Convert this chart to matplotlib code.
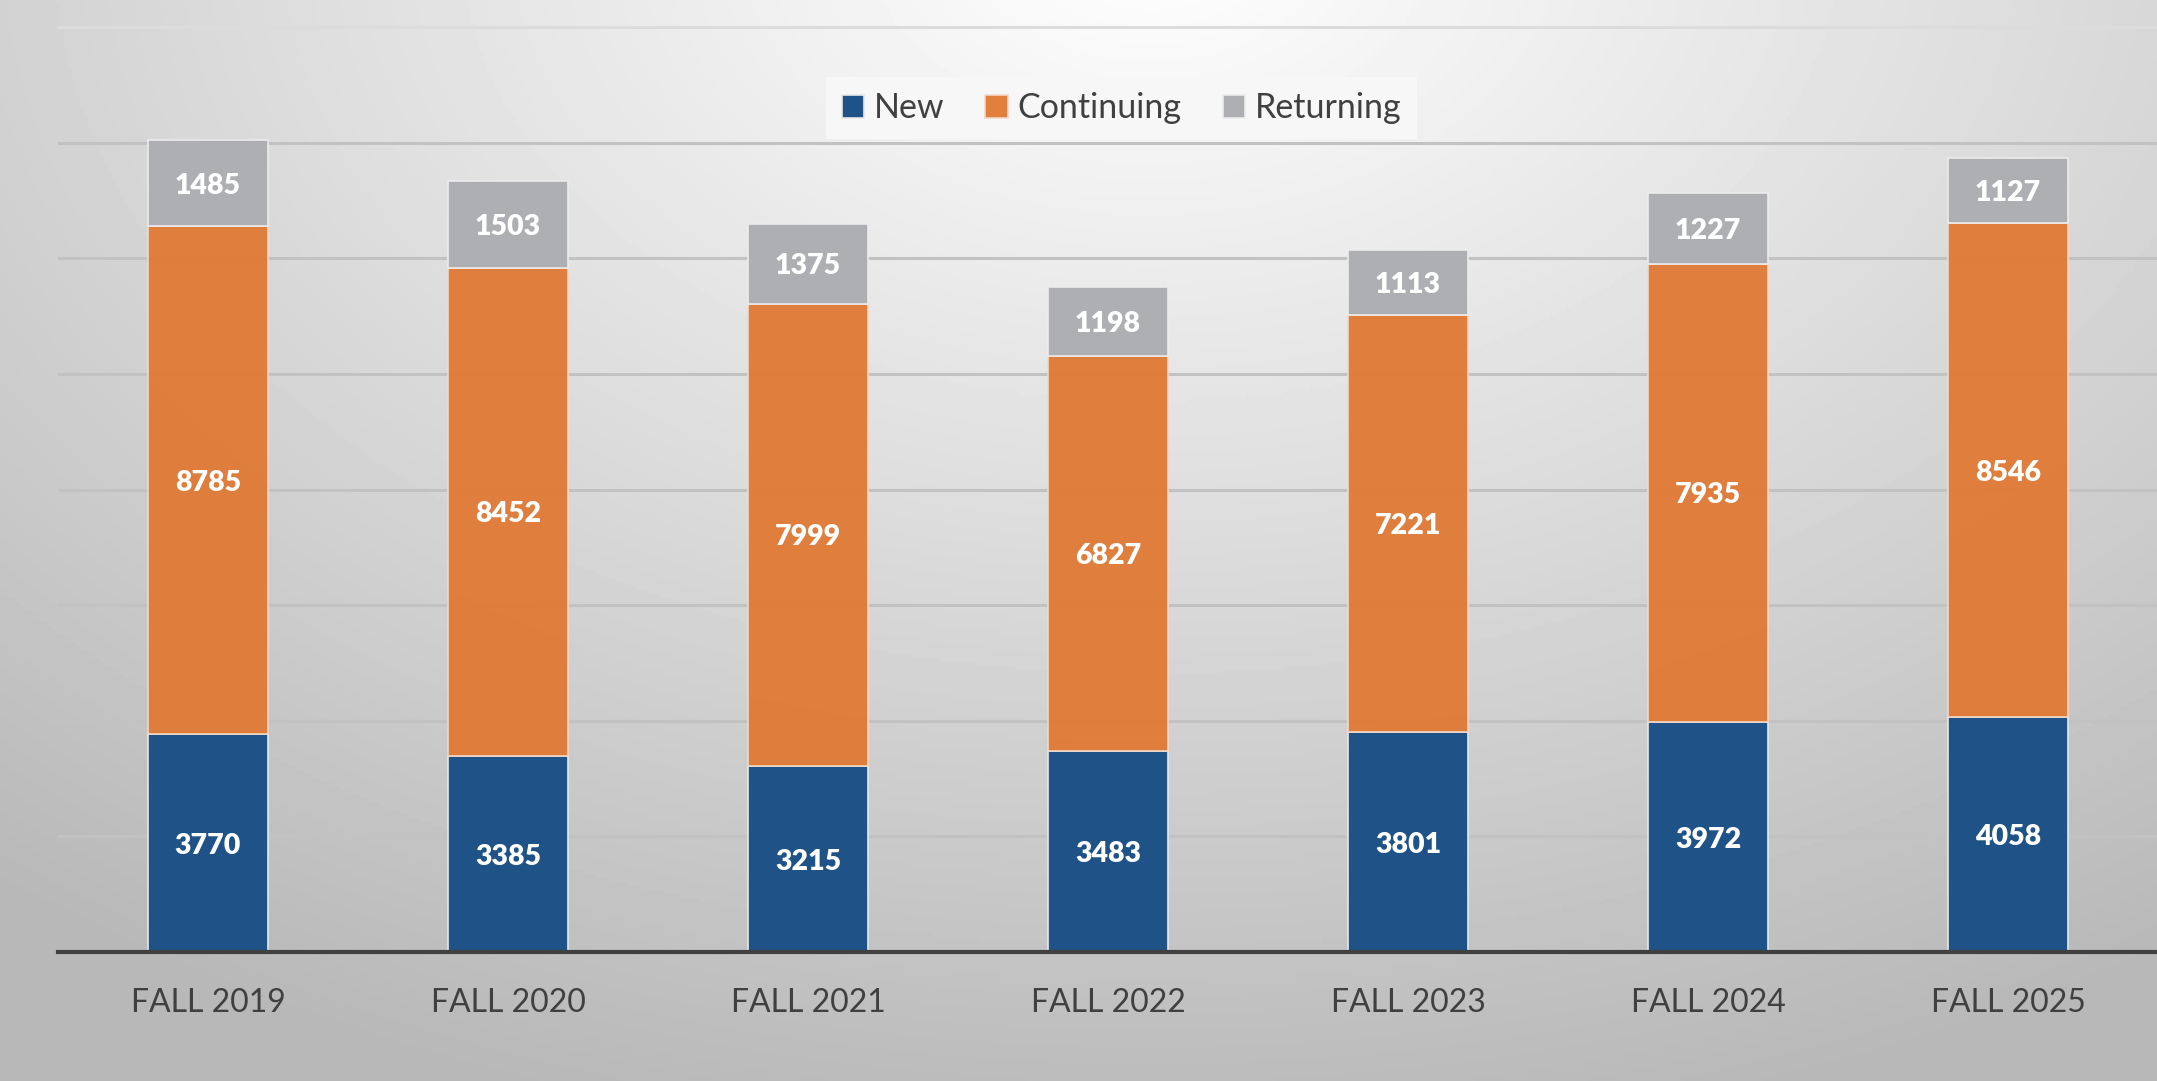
import numpy as np
import matplotlib.pyplot as plt

terms = ["FALL 2019", "FALL 2020", "FALL 2021", "FALL 2022", "FALL 2023", "FALL 2024", "FALL 2025"]
new = [3770, 3385, 3215, 3483, 3801, 3972, 4058]
continuing = [8785, 8452, 7999, 6827, 7221, 7935, 8546]
returning = [1485, 1503, 1375, 1198, 1113, 1227, 1127]

plt.rcParams['font.family'] = ['Lato', 'DejaVu Sans']

W, H = 2157, 1081
fig = plt.figure(figsize=(W / 100, H / 100), dpi=100)

# background gradient, light at the top centre, darker to the corners
bg = fig.add_axes([0, 0, 1, 1])
yy, xx = np.mgrid[0:H:4, 0:W:4]
d = np.sqrt(((xx - 1150) / W) ** 2 + ((yy + 60) / H * 0.75) ** 2)
shade = np.clip(1.0 - 0.33 * d, 0.72, 1.0)
bg.imshow(shade, cmap='gray', vmin=0, vmax=1, extent=[0, 1, 0, 1], aspect='auto', origin='upper')
bg.axis('off')

left, right, bottom, top = 58, 2158, 952, 27
ax = fig.add_axes([left / W, 1 - bottom / H, (right - left) / W, (bottom - top) / H])
ax.patch.set_alpha(0)

x = np.arange(len(terms))
w = 0.4
c_new, c_cont, c_ret = '#1f5286', '#e07b38', '#aeafb2'

b1 = ax.bar(x, new, w, color=c_new, edgecolor='#e8e8e8', linewidth=1.2, label='New', zorder=3)
b2 = ax.bar(x, continuing, w, bottom=new, color=c_cont, edgecolor='#f3d9c6', linewidth=1.2,
            label='Continuing', zorder=3, alpha=0.97)
base = np.array(new) + np.array(continuing)
b3 = ax.bar(x, returning, w, bottom=base, color=c_ret, edgecolor='#ececec', linewidth=1.2,
            label='Returning', zorder=3)

for bars, vals, bots in [(b1, new, np.zeros(7)), (b2, continuing, new), (b3, returning, base)]:
    for rect, v, b0 in zip(bars, vals, bots):
        ax.text(rect.get_x() + rect.get_width() / 2, b0 + v / 2, str(v),
                ha='center', va='center_baseline', color='white', fontsize=20.5,
                fontweight='heavy', zorder=4)

ax.set_xlim(-0.5, 6.5)
ax.set_ylim(0, 16000)
ax.set_yticks(np.arange(2000, 14001, 2000))
ax.yaxis.grid(True, color='#c2c2c2', linewidth=2.2, zorder=0)
ax.axhline(16000, color='#dcdcdc', linewidth=2.2, zorder=0, clip_on=False)
ax.set_axisbelow(True)
ax.tick_params(axis='y', left=False, labelleft=False)
ax.tick_params(axis='x', length=0, pad=26, labelsize=23, labelcolor='#404040')
ax.set_xticks(x)
ax.set_xticklabels(terms)
for s in ['top', 'right', 'left']:
    ax.spines[s].set_visible(False)
ax.spines['bottom'].set_color('#404040')
ax.spines['bottom'].set_linewidth(3)
ax.spines['bottom'].set_zorder(5)

leg = fig.legend(handles=[b1, b2, b3], loc='center', bbox_to_anchor=(0.52, 0.9), ncol=3,
                 fontsize=24.5, frameon=True, fancybox=False, handlelength=0.65, handleheight=0.65,
                 handletextpad=0.3, columnspacing=1.2, borderpad=0.45, labelcolor='#404040')
leg.get_frame().set_facecolor('#f7f7f7')
leg.get_frame().set_edgecolor('none')
leg.get_frame().set_alpha(1)

fig.savefig('out.png', dpi=100)
